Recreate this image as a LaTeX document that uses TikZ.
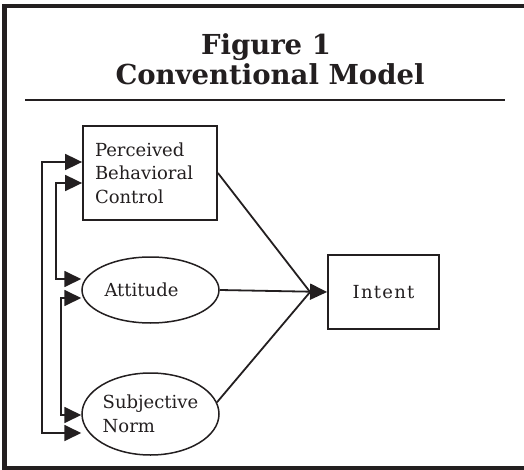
\documentclass[tikz,border=0pt]{standalone}
\usepackage{fontspec}
\setmainfont{DejaVu Serif}
\usetikzlibrary{arrows.meta,shapes.geometric,positioning}
\definecolor{ink}{RGB}{35,31,32}

\begin{document}
\begin{tikzpicture}[
        x=1pt,y=-1pt,
        every node/.style={text=ink,font=\fontsize{18}{23.5}\selectfont},
        frame line/.style={draw=ink,line width=4.5pt},
        title rule/.style={draw=ink,line width=2.5pt},
        title text/.style={font=\fontsize{27.5}{30}\selectfont\bfseries,anchor=base},
        model box/.style={rectangle,draw=ink,line width=1.8pt,inner sep=0pt},
        model oval/.style={ellipse,draw=ink,line width=1.5pt,inner sep=0pt},
        path line/.style={draw=ink,line width=1.8pt},
        tip/.style={arrows={-Triangle[length=17pt,width=16pt]}},
        both tips/.style={arrows={Triangle[length=17pt,width=16pt]-Triangle[length=17pt,width=16pt]}}
    ]
        \useasboundingbox (0,0) rectangle (524,470);

        \draw[frame line] (524,6) -- (4.5,6) -- (4.5,468) -- (524,468);

        \node[title text] (fig) at (266,55) {Figure 1};
        \node[title text] (model) at (270,85) {Conventional Model};
        \draw[title rule] (25,100) -- (505,100);

        \node[model box,minimum width=134pt,minimum height=94pt,text width=110pt,align=left] (pbc) at (150,173) {Perceived\\Behavioral\\Control};
        \node[model oval,minimum width=137pt,minimum height=66pt] (att) at (150.5,290) {Attitude\hspace*{18pt}};
        \node[model oval,minimum width=137pt,minimum height=82pt,align=left] (sn) at (150.5,414) {Subjective\\Norm};
        \node[model box,minimum width=111pt,minimum height=74pt] (intent) at (383.5,292) {\addfontfeature{LetterSpace=7}Intent};

        \coordinate (meet) at ([xshift=-17pt]intent.west);
        \draw[path line] (pbc.east) -- (meet);
        \draw[path line] (sn.10) -- (meet);
        \draw[path line,tip] (att.east) -- (intent.west);

        \draw[path line,both tips] ([yshift=11pt]pbc.west) -- ++(-40,0) |- ([yshift=-19pt]sn.west);
        \draw[path line,both tips] ([yshift=-10pt]pbc.west) -- ++(-26,0) |- ([yshift=11pt]att.west);
        \draw[path line,both tips] ([yshift=-8pt]att.west) -- ++(-20,0) |- ([yshift=-1pt]sn.west);
    \end{tikzpicture}
\end{document}
